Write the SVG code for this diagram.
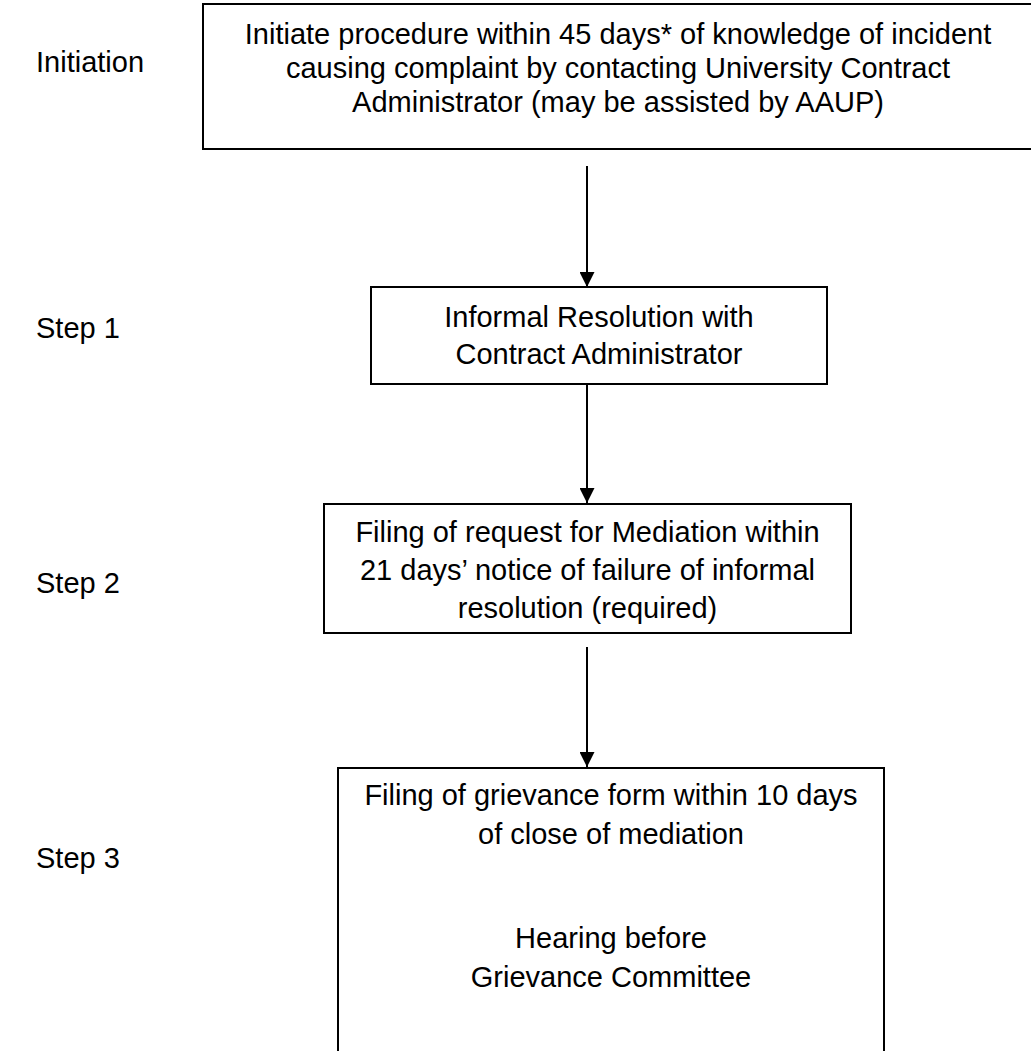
<svg xmlns="http://www.w3.org/2000/svg" width="1031" height="1051" viewBox="0 0 1031 1051">
<defs>
<style>
text{font-family:"Liberation Sans",Arial,sans-serif;font-size:29px;fill:#000}
.c{text-anchor:middle}
.box{fill:#fff;stroke:#000;stroke-width:2}
.ln{stroke:#000;stroke-width:2;fill:none}
</style>
<marker id="ah" viewBox="0 0 16 16" refX="16" refY="8" markerWidth="15" markerHeight="15" markerUnits="userSpaceOnUse" orient="auto">
<path d="M0,0 L16,8 L0,16 Z" fill="#000"/>
</marker>
</defs>
<rect width="1031" height="1051" fill="#fff"/>
<g id="labels">
<text x="36" y="72">Initiation</text>
<text x="36" y="338">Step 1</text>
<text x="36" y="593">Step 2</text>
<text x="36" y="868">Step 3</text>
</g>
<g id="connectors">
<line class="ln" x1="587" y1="166" x2="587" y2="287" marker-end="url(#ah)"/>
<line class="ln" x1="587" y1="384" x2="587" y2="503" marker-end="url(#ah)"/>
<line class="ln" x1="587" y1="647" x2="587" y2="767" marker-end="url(#ah)"/>
</g>
<g id="node-initiation">
<rect class="box" x="203" y="4" width="840" height="145"/>
<text class="c" x="618" y="44">Initiate procedure within 45 days* of knowledge of incident</text>
<text class="c" x="618" y="78">causing complaint by contacting University Contract</text>
<text class="c" x="618" y="112">Administrator (may be assisted by AAUP)</text>
</g>
<g id="node-step1">
<rect class="box" x="371" y="287" width="456" height="97"/>
<text class="c" x="599" y="327">Informal Resolution with</text>
<text class="c" x="599" y="364">Contract Administrator</text>
</g>
<g id="node-step2">
<rect class="box" x="324" y="504" width="527" height="129"/>
<text class="c" x="587.5" y="542">Filing of request for Mediation within</text>
<text class="c" x="587.5" y="580">21 days’ notice of failure of informal</text>
<text class="c" x="587.5" y="618">resolution (required)</text>
</g>
<g id="node-step3">
<rect class="box" x="338" y="768" width="546" height="300"/>
<text class="c" x="611" y="805">Filing of grievance form within 10 days</text>
<text class="c" x="611" y="844">of close of mediation</text>
<text class="c" x="611" y="948">Hearing before</text>
<text class="c" x="611" y="987">Grievance Committee</text>
</g>
</svg>
